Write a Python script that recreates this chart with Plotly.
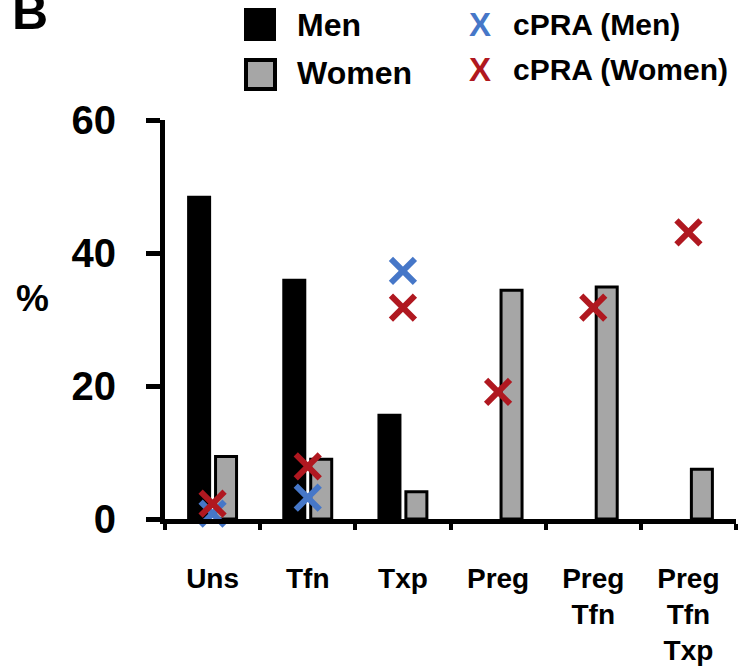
import plotly.graph_objects as go

categories = ["Uns", "Tfn", "Txp", "Preg", "Preg<br>Tfn", "Preg<br>Tfn<br>Txp"]
men = [48.4, 35.9, 15.6, None, None, None]
women = [9.4, 9.0, 4.1, 34.4, 34.9, 7.5]
cpra_men = [0.8, 3.2, 37.3, None, None, None]
cpra_women = [2.3, 7.9, 31.8, 19.1, 31.8, 43.1]
y_ticks = [0, 20, 40, 60]

W, H = 742, 672
L, R, T, B = 165, 6, 120, 153
PW, PH = W - L - R, H - T - B


def px2x(px):
    return (px - L) / PW


def py2y(py):
    return (H - B - py) / PH


FONT = "Liberation Sans, Arial, sans-serif"
BLUE = "#4677c8"
RED = "#b01820"
GRAY = "#a6a6a6"

fig = go.Figure()
fig.add_trace(go.Bar(x=categories, y=men, name="Men",
                     marker=dict(color="black", line=dict(color="black", width=3))))
fig.add_trace(go.Bar(x=categories, y=women, name="Women",
                     marker=dict(color=GRAY, line=dict(color="black", width=3))))
fig.add_trace(go.Scatter(x=categories, y=cpra_men, name="cPRA (Men)", mode="markers",
                         cliponaxis=False,
                         marker=dict(symbol="x-thin", size=24, line=dict(color=BLUE, width=6))))
fig.add_trace(go.Scatter(x=categories, y=cpra_women, name="cPRA (Women)", mode="markers",
                         cliponaxis=False,
                         marker=dict(symbol="x-thin", size=24, line=dict(color=RED, width=6))))

annotations = [
    dict(text="B", x=px2x(10), y=py2y(12), xanchor="left", yanchor="middle",
         font=dict(family=FONT, size=50, color="black", weight="bold")),
    dict(text="%", x=px2x(32), y=py2y(298), xanchor="center", yanchor="middle",
         font=dict(family=FONT, size=37, color="black", weight="bold")),
    dict(text="Men", x=px2x(295), y=py2y(25), xanchor="left", yanchor="middle",
         font=dict(family=FONT, size=32, color="black", weight="bold")),
    dict(text="Women", x=px2x(295), y=py2y(73), xanchor="left", yanchor="middle",
         font=dict(family=FONT, size=32, color="black", weight="bold")),
    dict(text="X", x=px2x(480), y=py2y(24), xanchor="center", yanchor="middle",
         font=dict(family=FONT, size=33, color=BLUE, weight="bold")),
    dict(text="X", x=px2x(480), y=py2y(70), xanchor="center", yanchor="middle",
         font=dict(family=FONT, size=33, color=RED, weight="bold")),
    dict(text="cPRA (Men)", x=px2x(511), y=py2y(24), xanchor="left", yanchor="middle",
         font=dict(family=FONT, size=30, color="black", weight="bold")),
    dict(text="cPRA (Women)", x=px2x(511), y=py2y(70), xanchor="left", yanchor="middle",
         font=dict(family=FONT, size=30, color="black", weight="bold")),
]
for a in annotations:
    a.update(xref="paper", yref="paper", showarrow=False)

shapes = [
    dict(type="rect", x0=px2x(245), x1=px2x(275), y0=py2y(9), y1=py2y(40),
         fillcolor="black", line=dict(color="black", width=2)),
    dict(type="rect", x0=px2x(246), x1=px2x(275), y0=py2y(60), y1=py2y(89),
         fillcolor=GRAY, line=dict(color="black", width=4)),
]
for s in shapes:
    s.update(xref="paper", yref="paper")

fig.update_layout(
    width=W, height=H,
    margin=dict(l=L, r=R, t=T, b=B, pad=0),
    paper_bgcolor="white", plot_bgcolor="white",
    barmode="group", bargap=0.434, bargroupgap=0.22,
    showlegend=False,
    annotations=annotations, shapes=shapes,
    font=dict(family=FONT, color="black"),
)
fig.update_xaxes(
    type="category", range=[-0.5, 5.5],
    showline=True, linecolor="black", linewidth=5,
    ticks="outside", tickson="boundaries", ticklen=6, tickwidth=4, tickcolor="black",
    showgrid=False, zeroline=False,
    tickfont=dict(family=FONT, size=28, color="black", weight="bold"),
    ticklabelstandoff=30,
)
fig.update_yaxes(
    range=[0, 60], tickvals=y_ticks,
    showline=True, linecolor="black", linewidth=5,
    ticks="outside", ticklen=14, tickwidth=5, tickcolor="black",
    showgrid=False, zeroline=False,
    tickfont=dict(family=FONT, size=40, color="black", weight="bold"),
    ticklabelstandoff=22,
)

fig.write_html("out.html")
